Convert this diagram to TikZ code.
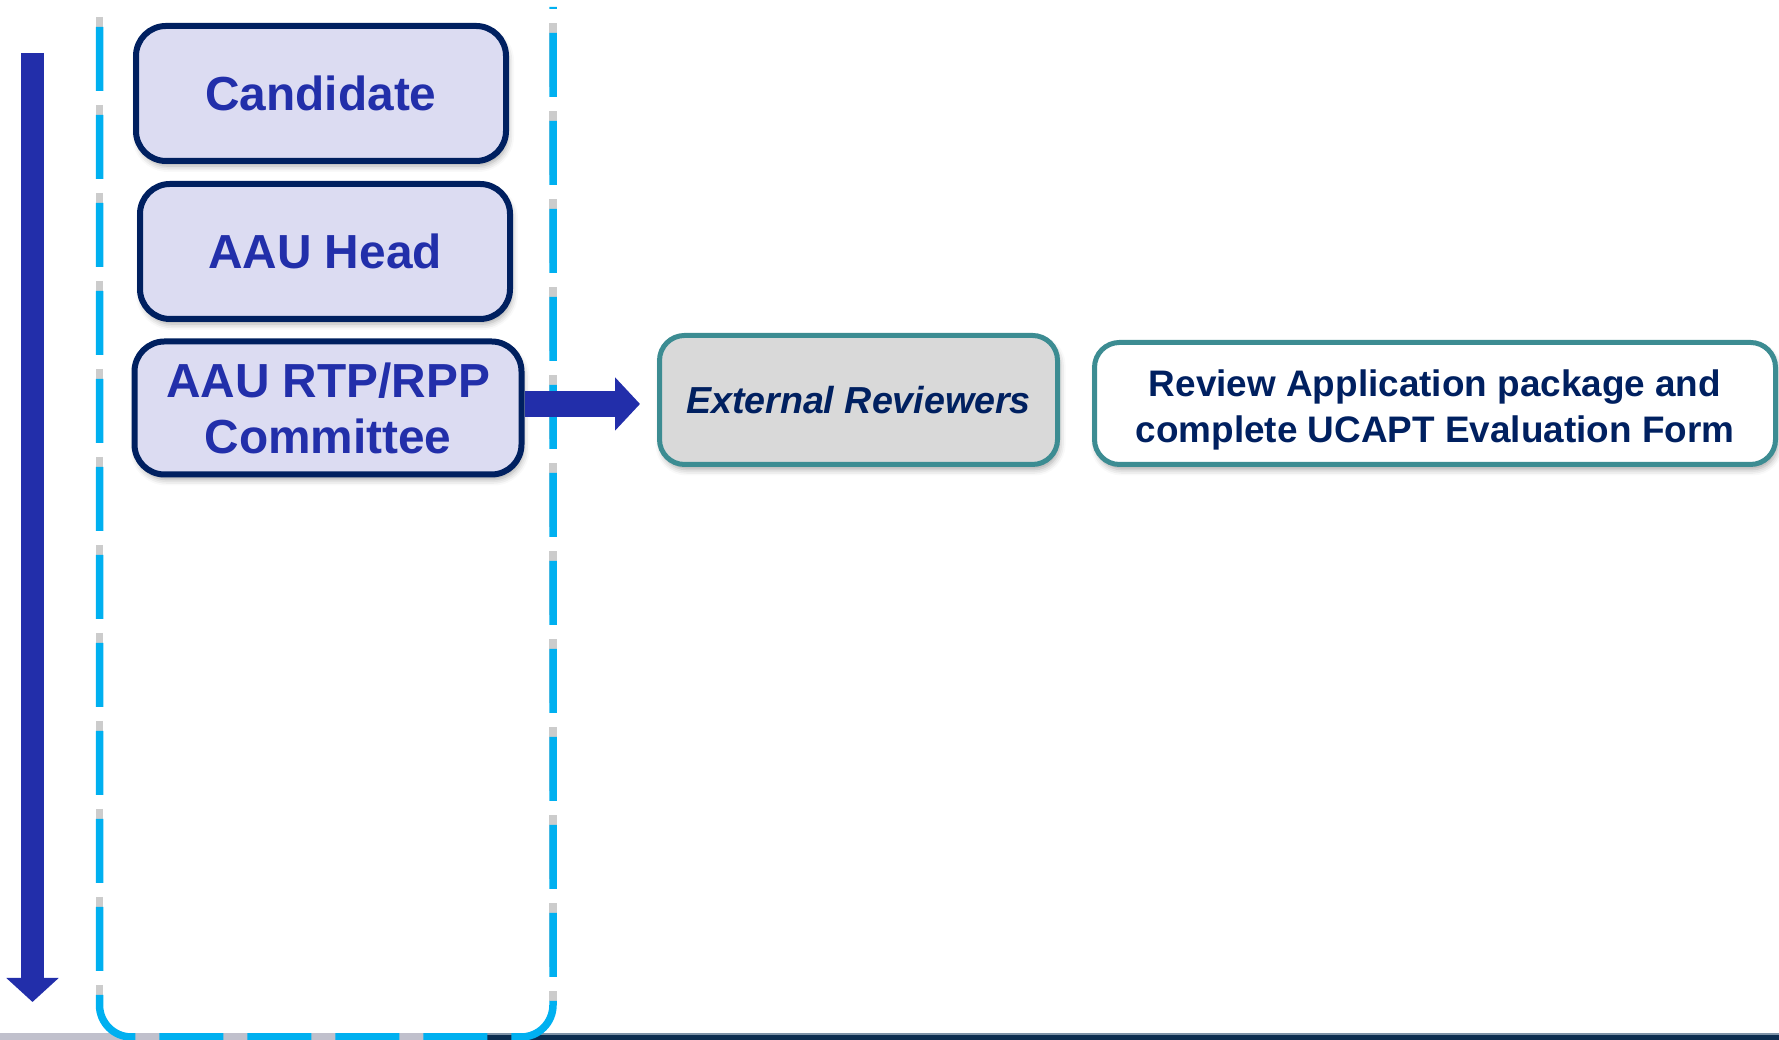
\documentclass[tikz,border=0pt]{standalone}
\usepackage{fontspec}
\setmainfont{Liberation Sans}
\usetikzlibrary{arrows.meta, shadows.blur}
\definecolor{lavender}{RGB}{220,220,242}
\definecolor{navyline}{RGB}{0,32,96}
\definecolor{boxtext}{RGB}{34,47,170}
\definecolor{flowblue}{RGB}{34,46,170}
\definecolor{tealline}{RGB}{60,140,146}
\definecolor{panegray}{RGB}{217,217,217}
\definecolor{laneblue}{RGB}{0,176,240}
\definecolor{barnavy}{RGB}{12,45,80}
\definecolor{barsteel}{RGB}{126,147,168}
\definecolor{bargray}{RGB}{192,192,204}

\begin{document}
\begin{tikzpicture}[
stagebox/.style={rectangle, rounded corners=0.3cm, draw=navyline, fill=lavender, line width=0.06cm, text=boxtext, font=\fontsize{13.6}{15.9}\selectfont\bfseries, align=center, minimum width=3.70cm, minimum height=1.35cm, blur shadow={shadow xshift=0.02cm, shadow yshift=-0.05cm, shadow blur radius=0.06cm, shadow opacity=35}},
reviewbox/.style={rectangle, rounded corners=0.25cm, draw=tealline, line width=0.05cm, text=navyline, font=\fontsize{10.5}{13.1}\selectfont\bfseries, align=center, minimum height=1.29cm, blur shadow={shadow xshift=0.02cm, shadow yshift=-0.05cm, shadow blur radius=0.06cm, shadow opacity=35}},
flowarrow/.style={flowblue, -{Triangle[length=0.25cm, width=0.52cm]}},
lane/.style={laneblue, line width=0.075cm, dash pattern=on 0.64cm off 0.24cm},
laneshadow/.style={gray!40, line width=0.075cm, dash pattern=on 0.64cm off 0.24cm},]

	\useasboundingbox (0, 0) rectangle (17.79, 10.40);
	\clip (0, 0) rectangle (17.79, 10.40);

	% bottom bar
	\fill[bargray] (0, 0) rectangle (4.87, 0.07);
	\fill[barnavy] (4.87, 0) rectangle (17.79, 0.05);
	\fill[barsteel] (4.87, 0.05) rectangle (17.79, 0.07);

	% dashed lane
	\draw[laneshadow] (0.995, 11.11) -- (0.995, 0.39);
	\draw[laneshadow] (5.53, 11.049) -- (5.53, 0.39);
	\draw[lane, rounded corners=0.32cm] (0.995, 10.13) -- (0.995, 0.03) -- (5.53, 0.03) -- (5.53, 10.33);

	\node (candidate) [stagebox] at (3.21, 9.465) {Candidate};
	\node (head) [stagebox] at (3.25, 7.885) {AAU Head};
	\node (committee) [stagebox, minimum width=3.87cm, minimum height=1.33cm] at (3.28, 6.32) {AAU RTP/RPP\\Committee};

	\node (external) [reviewbox, fill=panegray, minimum width=3.98cm, font=\fontsize{10.7}{13.1}\selectfont\bfseries\itshape] at (8.585, 6.40) {External Reviewers};
	\node (task) [reviewbox, fill=white, minimum width=6.81cm, minimum height=1.22cm] at (14.35, 6.365) {\rule{0pt}{0.39cm}Review Application package and\\complete UCAPT Evaluation Form};

	% arrows
	\coordinate (flowtop) at (0.325, 9.87);
	\coordinate (flowend) at (0.325, 0.38);
	\draw[flowarrow, line width=0.23cm, -{Triangle[length=0.24cm, width=0.51cm]}] (flowtop) -- (flowend);

	\coordinate (reviewtip) at (6.40, 6.36);
	\draw[flowarrow, line width=0.26cm] (committee.east |- reviewtip) -- (reviewtip);

\end{tikzpicture}
\end{document}
